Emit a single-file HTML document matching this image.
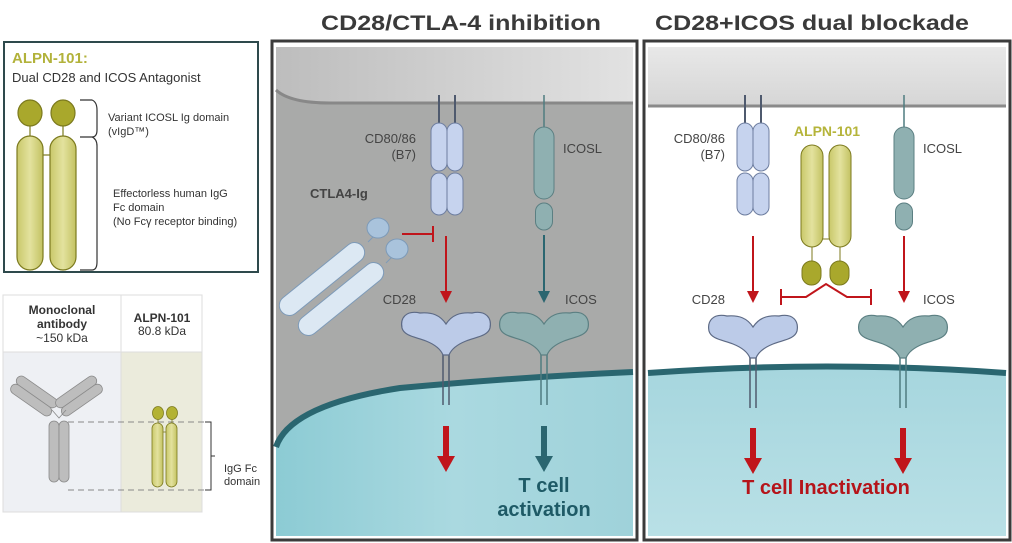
<!DOCTYPE html>
<html><head><meta charset="utf-8"><style>
html,body{margin:0;padding:0;background:#fff;}
svg{display:block;font-family:"Liberation Sans",sans-serif;}
</style></head><body>
<svg width="1012" height="543" viewBox="0 0 1012 543" xmlns="http://www.w3.org/2000/svg">
<defs>
<linearGradient id="top1" x1="0" y1="0" x2="1" y2="0"><stop offset="0" stop-color="#bdbdbd"/><stop offset="1" stop-color="#e2e2e2"/></linearGradient>
<linearGradient id="top2" x1="0" y1="0" x2="0" y2="1"><stop offset="0" stop-color="#e8e8e8"/><stop offset="1" stop-color="#d6d6d6"/></linearGradient>
<linearGradient id="cell" x1="0" y1="0" x2="1" y2="0"><stop offset="0" stop-color="#8ccbd4"/><stop offset="0.5" stop-color="#aad9e0"/><stop offset="1" stop-color="#9fd2da"/></linearGradient>
<linearGradient id="cell2" x1="0" y1="0" x2="0" y2="1"><stop offset="0" stop-color="#a6d6de"/><stop offset="1" stop-color="#b9e0e6"/></linearGradient>
<linearGradient id="olive" x1="0" y1="0" x2="1" y2="0"><stop offset="0" stop-color="#c9c86a"/><stop offset="0.5" stop-color="#e3e29e"/><stop offset="1" stop-color="#c3c262"/></linearGradient>
</defs>

<text x="461" y="30" font-size="21" font-weight="bold" fill="#3a3a3a" text-anchor="middle" textLength="280" lengthAdjust="spacingAndGlyphs">CD28/CTLA-4 inhibition</text>
<text x="812" y="30" font-size="21" font-weight="bold" fill="#3a3a3a" text-anchor="middle" textLength="314" lengthAdjust="spacingAndGlyphs">CD28+ICOS dual blockade</text>

<rect x="4" y="42" width="254" height="230" fill="#fff" stroke="#2e4a4c" stroke-width="2"/>
<text x="12" y="63" font-size="15" font-weight="bold" fill="#b2b23a">ALPN-101:</text>
<text x="12" y="82" font-size="13" fill="#333">Dual CD28 and ICOS Antagonist</text>
<g stroke="#7c7a1e" stroke-width="1.2">
<line x1="30" y1="125" x2="30" y2="137"/><line x1="63" y1="125" x2="63" y2="137"/>
<line x1="43" y1="155" x2="50" y2="155"/>
<ellipse cx="30" cy="113" rx="12" ry="13" fill="#a9a82c"/>
<ellipse cx="63" cy="113" rx="12" ry="13" fill="#a9a82c"/>
<rect x="17" y="136" width="26" height="134" rx="13" fill="url(#olive)"/>
<rect x="50" y="136" width="26" height="134" rx="13" fill="url(#olive)"/>
</g>
<path d="M80,100 L92,100 Q97,102 97,110 L97,130 Q97,137 92,137 L80,137 M92,137 Q97,139 97,146 L97,262 Q97,270 92,270 L80,270" fill="none" stroke="#333" stroke-width="1.2"/>
<g font-size="11" fill="#333">
<text x="108" y="121">Variant ICOSL Ig domain</text>
<text x="108" y="135">(vIgD™)</text>
<text x="113" y="197">Effectorless human IgG</text>
<text x="113" y="211">Fc domain</text>
<text x="113" y="225">(No Fcγ receptor binding)</text>
</g>

<rect x="3" y="295" width="118" height="57" fill="#fff" stroke="#ddd"/>
<rect x="121" y="295" width="81" height="57" fill="#fff" stroke="#ddd"/>
<rect x="3" y="352" width="118" height="160" fill="#eef0f4" stroke="#ddd"/>
<rect x="121" y="352" width="81" height="160" fill="#ebebdc" stroke="#ddd"/>
<g font-size="12" fill="#333" text-anchor="middle">
<text x="62" y="314" font-weight="bold">Monoclonal</text>
<text x="62" y="328" font-weight="bold">antibody</text>
<text x="62" y="342">~150 kDa</text>
<text x="162" y="322" font-weight="bold">ALPN-101</text>
<text x="162" y="335">80.8 kDa</text>
</g>
<g fill="#bdbdbd" stroke="#8a8a8a" stroke-width="0.8">
<g transform="translate(34,396) rotate(35)"><rect x="-24" y="-10" width="48" height="10" rx="5"/><rect x="-24" y="0" width="48" height="10" rx="5"/></g>
<g transform="translate(79,396) rotate(-35)"><rect x="-24" y="-10" width="48" height="10" rx="5"/><rect x="-24" y="0" width="48" height="10" rx="5"/></g>
<path d="M52,410 L59,418 L66,410" fill="none"/>
<rect x="49" y="421" width="10" height="61" rx="5"/>
<rect x="59" y="421" width="10" height="61" rx="5"/>
</g>
<g stroke="#888" stroke-width="1" stroke-dasharray="6,4">
<line x1="68" y1="422" x2="208" y2="422"/><line x1="68" y1="490" x2="208" y2="490"/>
</g>
<path d="M205,422 L211,422 L211,490 L205,490 M211,456 L215,456" fill="none" stroke="#333" stroke-width="1"/>
<text x="224" y="472" font-size="11" fill="#333">IgG Fc</text>
<text x="224" y="485" font-size="11" fill="#333">domain</text>
<g stroke="#7c7a1e" stroke-width="0.8">
<line x1="158" y1="418" x2="158" y2="424"/><line x1="172" y1="418" x2="172" y2="424"/>
<line x1="162" y1="432" x2="168" y2="432"/>
<ellipse cx="158" cy="413" rx="5.5" ry="6.5" fill="#b3b233"/>
<ellipse cx="172" cy="413" rx="5.5" ry="6.5" fill="#b3b233"/>
<rect x="152" y="423" width="11" height="64" rx="5.5" fill="url(#olive)"/>
<rect x="166" y="423" width="11" height="64" rx="5.5" fill="url(#olive)"/>
</g>

<rect x="272" y="41" width="365" height="499" fill="#fff" stroke="#3b3b3b" stroke-width="3"/>
<rect x="276" y="47" width="357" height="489" fill="#a9aaa9"/>
<path d="M276,47 L633,47 L633,103 L330,103 Q290,103 276,90 Z" fill="url(#top1)"/>
<path d="M276,90 Q290,103 330,103 L633,103" fill="none" stroke="#888" stroke-width="3"/>
<path d="M276,447 Q290,405 400,388 Q520,377 633,372 L633,536 L276,536 Z" fill="url(#cell)"/>
<path d="M276,447 Q290,405 400,388 Q520,377 633,372" fill="none" stroke="#2a6670" stroke-width="6"/>

<rect x="644" y="41" width="366" height="499" fill="#fff" stroke="#3b3b3b" stroke-width="3"/>
<rect x="648" y="47" width="358" height="58" fill="url(#top2)"/>
<line x1="648" y1="106" x2="1006" y2="106" stroke="#8a8a8a" stroke-width="3"/>
<path d="M648,373 Q827,360 1006,373 L1006,536 L648,536 Z" fill="url(#cell2)"/>
<path d="M648,373 Q827,360 1006,373" fill="none" stroke="#2a6670" stroke-width="6"/>

<defs>
<g id="b7">
<line x1="-8" y1="0" x2="-8" y2="28" stroke="#4f5a6e" stroke-width="2"/>
<line x1="8" y1="0" x2="8" y2="28" stroke="#4f5a6e" stroke-width="2"/>
<g fill="#c6d3ee" stroke="#6e7ea0" stroke-width="1">
<rect x="-16" y="28" width="16" height="48" rx="8"/><rect x="0" y="28" width="16" height="48" rx="8"/>
<rect x="-16" y="78" width="16" height="42" rx="8"/><rect x="0" y="78" width="16" height="42" rx="8"/>
</g></g>
<g id="icosl">
<line x1="0" y1="0" x2="0" y2="32" stroke="#4f7c80" stroke-width="1.5"/>
<rect x="-10" y="32" width="20" height="72" rx="10" fill="#8fb0b1" stroke="#5b7f82"/>
<rect x="-8.5" y="108" width="17" height="27" rx="8.5" fill="#8fb0b1" stroke="#5b7f82"/>
</g>
<path id="rec" d="M0,14 C-6,5 -14,2 -26,3 C-40,0 -46,8 -44,18 C-42,26 -30,27 -20,31 C-10,35 -5,40 -3,45 L3,45 C5,40 10,35 20,31 C30,27 42,26 44,18 C46,8 40,0 26,3 C14,2 6,5 0,14Z"/>
</defs>

<use href="#b7" x="447" y="95"/>
<use href="#icosl" x="544" y="95"/>
<use href="#b7" x="753" y="95"/>
<use href="#icosl" x="904" y="95"/>

<g font-size="13" fill="#444">
<text x="416" y="143" text-anchor="end">CD80/86</text>
<text x="416" y="159" text-anchor="end">(B7)</text>
<text x="563" y="153">ICOSL</text>
<text x="416" y="304" text-anchor="end">CD28</text>
<text x="565" y="304">ICOS</text>
<text x="725" y="143" text-anchor="end">CD80/86</text>
<text x="725" y="159" text-anchor="end">(B7)</text>
<text x="923" y="153">ICOSL</text>
<text x="725" y="304" text-anchor="end">CD28</text>
<text x="923" y="304">ICOS</text>
</g>
<text x="310" y="198" font-size="13" font-weight="bold" fill="#444">CTLA4-Ig</text>

<g stroke="#7d9ab8" stroke-width="1">
<line x1="368" y1="242" x2="378" y2="232"/><line x1="386" y1="263" x2="396" y2="253"/>
<ellipse cx="378" cy="228" rx="11" ry="10" fill="#a9c3dc"/>
<ellipse cx="397" cy="249" rx="11" ry="10" fill="#a9c3dc"/>
<g transform="translate(322,279) rotate(-39)"><rect x="-52" y="-10" width="104" height="20" rx="10" fill="#dce8f3"/></g>
<g transform="translate(341,299) rotate(-39)"><rect x="-52" y="-10" width="104" height="20" rx="10" fill="#dce8f3"/></g>
</g>
<g stroke="#c0151b" stroke-width="2" fill="none">
<line x1="402" y1="234" x2="433" y2="234"/><line x1="433" y1="226" x2="433" y2="242"/>
<line x1="446" y1="236" x2="446" y2="295"/>
<line x1="753" y1="236" x2="753" y2="295"/>
<line x1="904" y1="236" x2="904" y2="295"/>
<path d="M781,297 L806,297 L826,284 L847,297 L871,297"/>
<line x1="781" y1="289" x2="781" y2="305"/><line x1="871" y1="289" x2="871" y2="305"/>
</g>
<g fill="#c0151b">
<path d="M440,291 L452,291 L446,303Z"/>
<path d="M747,291 L759,291 L753,303Z"/>
<path d="M898,291 L910,291 L904,303Z"/>
</g>
<line x1="544" y1="235" x2="544" y2="295" stroke="#2b6670" stroke-width="2"/>
<path d="M538,291 L550,291 L544,303Z" fill="#2b6670"/>

<text x="827" y="136" font-size="14" font-weight="bold" fill="#b5b43a" text-anchor="middle">ALPN-101</text>
<g stroke="#7c7a1e" stroke-width="1">
<line x1="812" y1="245" x2="812" y2="262"/><line x1="840" y1="245" x2="840" y2="262"/>
<line x1="822" y1="239" x2="829" y2="239"/>
<rect x="801" y="145" width="22" height="102" rx="11" fill="url(#olive)"/>
<rect x="829" y="145" width="22" height="102" rx="11" fill="url(#olive)"/>
<rect x="802" y="261" width="19" height="24" rx="9.5" fill="#a9a82c"/>
<rect x="830" y="261" width="19" height="24" rx="9.5" fill="#a9a82c"/>
</g>

<g stroke-width="1.5">
<line x1="443" y1="350" x2="443" y2="405" stroke="#4f5a6e"/><line x1="449" y1="350" x2="449" y2="405" stroke="#4f5a6e"/>
<line x1="541" y1="350" x2="541" y2="405" stroke="#4f7c80"/><line x1="547" y1="350" x2="547" y2="405" stroke="#4f7c80"/>
<line x1="750" y1="353" x2="750" y2="408" stroke="#4f5a6e"/><line x1="756" y1="353" x2="756" y2="408" stroke="#4f5a6e"/>
<line x1="900" y1="353" x2="900" y2="408" stroke="#4f7c80"/><line x1="906" y1="353" x2="906" y2="408" stroke="#4f7c80"/>
</g>
<use href="#rec" x="446" y="310" fill="#bccbe8" stroke="#5d6a85" stroke-width="1.2"/>
<use href="#rec" x="544" y="310" fill="#8fb0b1" stroke="#5b7f82" stroke-width="1.2"/>
<use href="#rec" x="753" y="313" fill="#bccbe8" stroke="#5d6a85" stroke-width="1.2"/>
<use href="#rec" x="903" y="313" fill="#8fb0b1" stroke="#5b7f82" stroke-width="1.2"/>

<g fill="#c0151b">
<rect x="443" y="426" width="6" height="32"/><path d="M437,456 L455,456 L446,472Z"/>
<rect x="750" y="428" width="6" height="32"/><path d="M744,458 L762,458 L753,474Z"/>
<rect x="900" y="428" width="6" height="32"/><path d="M894,458 L912,458 L903,474Z"/>
</g>
<g fill="#2b6670">
<rect x="541" y="426" width="6" height="32"/><path d="M535,456 L553,456 L544,472Z"/>
</g>
<text x="544" y="492" font-size="20" font-weight="bold" fill="#1e5a66" text-anchor="middle">T cell</text>
<text x="544" y="516" font-size="20" font-weight="bold" fill="#1e5a66" text-anchor="middle">activation</text>
<text x="826" y="494" font-size="20" font-weight="bold" fill="#b5141a" text-anchor="middle">T cell Inactivation</text>
</svg>
</body></html>
